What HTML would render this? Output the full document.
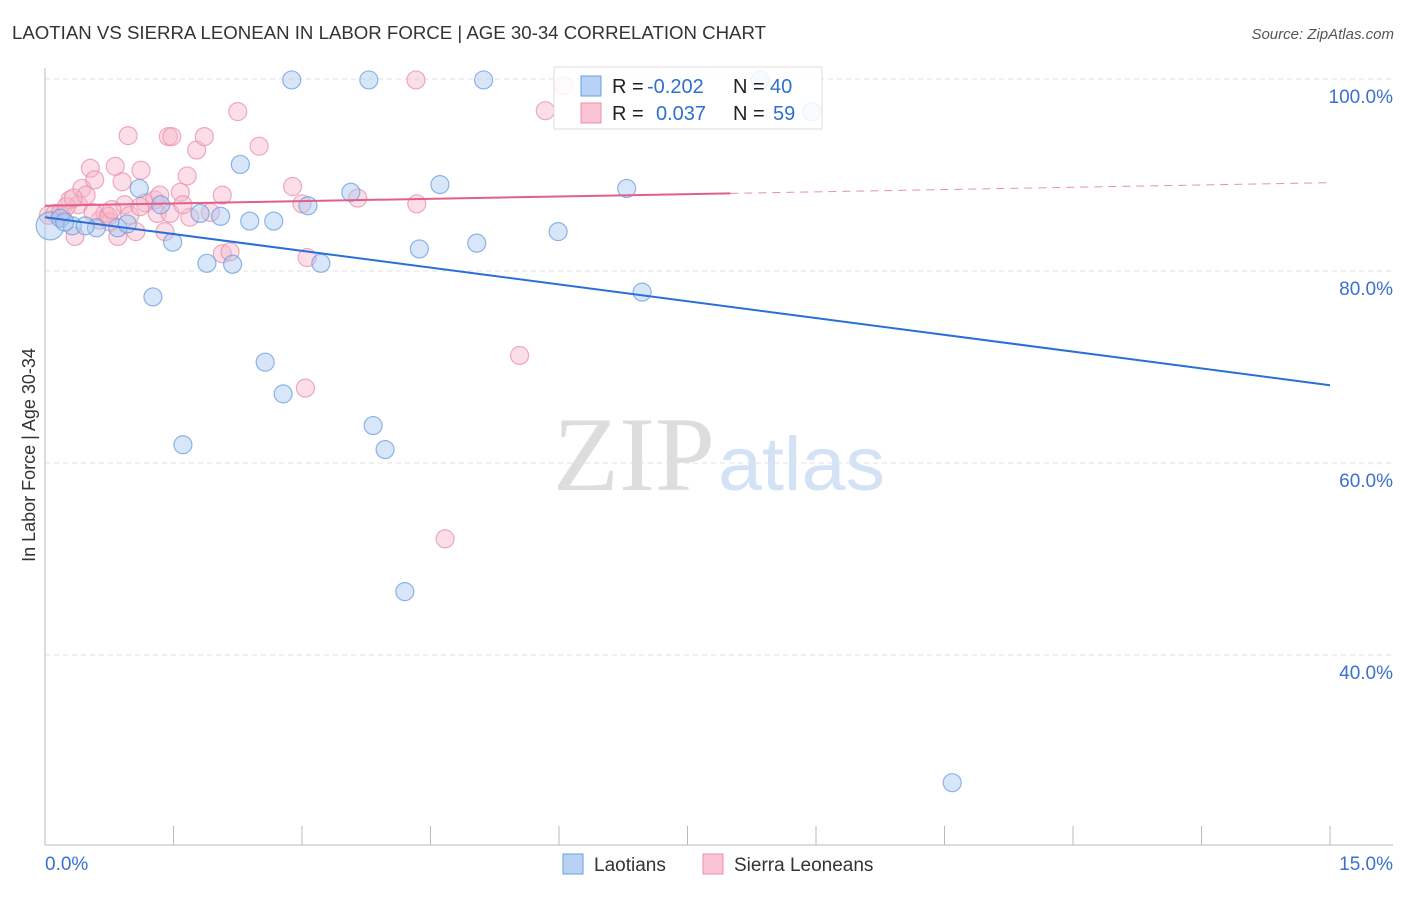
<!DOCTYPE html>
<html><head><meta charset="utf-8"><style>
body{margin:0;background:#fff;font-family:"Liberation Sans",sans-serif}
svg text{font-family:"Liberation Sans",sans-serif}
</style></head><body>
<svg width="1406" height="892" xmlns="http://www.w3.org/2000/svg">
<text x="12" y="39" font-size="18" fill="#333" textLength="754" lengthAdjust="spacingAndGlyphs">LAOTIAN VS SIERRA LEONEAN IN LABOR FORCE | AGE 30-34 CORRELATION CHART</text>
<text x="1394" y="39" font-size="15" fill="#555" text-anchor="end" font-style="italic">Source: ZipAtlas.com</text>
<g>
<text x="553" y="490" font-size="106" fill="#ddd" textLength="162" lengthAdjust="spacingAndGlyphs" style="font-family:'Liberation Serif',serif">ZIP</text>
<text x="718" y="490" font-size="76" fill="#d3e2f5" textLength="167" lengthAdjust="spacingAndGlyphs">atlas</text>
</g>
<g id="grid"></g>
<g id="axes"></g>
<g id="pts"></g>
<g id="trend"></g>
<text x="35" y="455" font-size="18" fill="#333" text-anchor="middle" transform="rotate(-90 35 455)">In Labor Force | Age 30-34</text>
<g>
<rect x="554" y="67" width="268" height="62" fill="#fff" stroke="#ddd" fill-opacity="0.85"/>
<rect x="581" y="76" width="20" height="20" fill="#b8d2f5" stroke="#6a9ede"/>
<rect x="581" y="103" width="20" height="20" fill="#fac4d4" stroke="#e890aa"/>
<text x="612" y="93" font-size="20" fill="#222">R =</text>
<text x="647" y="93" font-size="20" fill="#2f6fd0">-0.202</text>
<text x="733" y="93" font-size="20" fill="#222">N =</text>
<text x="770" y="93" font-size="20" fill="#2f6fd0">40</text>
<text x="612" y="120" font-size="20" fill="#222">R =</text>
<text x="656" y="120" font-size="20" fill="#2f6fd0">0.037</text>
<text x="733" y="120" font-size="20" fill="#222">N =</text>
<text x="773" y="120" font-size="20" fill="#2f6fd0">59</text>
</g>
<g>
<rect x="563" y="854" width="20" height="20" fill="#b8d2f5" stroke="#6a9ede"/>
<text x="594" y="871" font-size="19" fill="#333">Laotians</text>
<rect x="703" y="854" width="20" height="20" fill="#fac4d4" stroke="#e890aa"/>
<text x="734" y="871" font-size="19" fill="#333">Sierra Leoneans</text>
</g>
</svg>
<script>
const blueX=[0.06,0.18,0.32,0.60,0.47,0.85,0.96,1.10,1.26,1.35,1.49,1.61,1.81,1.89,2.05,2.19,2.28,2.39,2.57,2.67,2.78,2.88,3.07,3.22,3.57,3.78,3.83,3.97,4.20,4.37,4.61,5.04,5.12,5.99,6.79,6.97,8.35,8.95,10.59,0.23];
const blueY=[84.7,85.5,84.7,84.5,84.7,84.5,84.9,88.6,77.3,86.9,83.0,61.9,86.0,80.8,85.7,80.7,91.1,85.2,70.5,85.2,67.2,99.9,86.8,80.8,88.2,99.9,63.9,61.4,46.6,82.3,89.0,82.9,99.9,84.1,88.6,77.8,99.9,96.6,26.7,85.1];
const pinkX=[0.04,0.12,0.20,0.29,0.35,0.39,0.43,0.48,0.53,0.58,0.64,0.70,0.76,0.82,0.85,0.90,0.93,0.99,1.06,1.12,1.17,1.28,1.31,1.34,1.40,1.44,1.48,1.46,1.58,1.66,1.69,1.77,1.86,1.93,2.07,2.07,2.16,2.25,2.50,2.89,3.00,3.06,3.04,3.65,4.33,4.34,4.67,5.54,5.84,6.05,0.18,0.25,0.56,0.97,0.74,1.11,1.61,0.33,0.78];
const pinkY=[85.8,86.0,85.7,87.4,83.6,86.9,88.6,87.9,90.7,89.5,85.3,86.0,85.1,90.9,83.6,89.3,86.9,85.8,84.1,90.5,87.1,87.4,86.0,87.9,84.1,94.0,94.0,86.0,88.2,89.9,85.6,92.6,94.0,86.1,87.9,81.8,82.0,96.6,93.0,88.8,87.0,81.4,67.8,87.6,99.9,87.0,52.1,71.2,96.7,99.3,86.0,86.7,86.1,94.1,85.7,86.7,86.9,87.6,86.4];
const blueTrend=[85.6,68.1];
const pinkTrend=[86.8,89.2];
const yTicks=[100,80,60,40];
const yTickLabels=["100.0%","80.0%","60.0%","40.0%"];
const xTicks=[0,1.5,3,4.5,6,7.5,9,10.5,12,13.5,15];

const X=v=>45+v/15*1285;
const Y=v=>79+(100-v)/20*192;
const NS="http://www.w3.org/2000/svg";
function mk(tag,attrs,parent){const e=document.createElementNS(NS,tag);for(const k in attrs)e.setAttribute(k,attrs[k]);parent.appendChild(e);return e;}
const grid=document.getElementById('grid'),axes=document.getElementById('axes'),pts=document.getElementById('pts'),trend=document.getElementById('trend');
yTicks.forEach((t,i)=>{
 const l=mk('line',{x1:45,x2:1393,y1:Y(t),y2:Y(t),stroke:'#e2e2e2','stroke-dasharray':'5,4'},grid);
 
 
 const tx=mk('text',{x:1393,y:Y(t)+24,'font-size':19,fill:'#3a70d0','text-anchor':'end'},axes);
 tx.textContent=yTickLabels[i];
 
 
});
mk('line',{x1:45,x2:45,y1:68,y2:845,stroke:'#bbb'},axes);
mk('line',{x1:45,x2:1393,y1:845,y2:845,stroke:'#bbb'},axes);
xTicks.forEach(t=>{
 const l=mk('line',{x1:X(t),x2:X(t),y1:826,y2:845,stroke:'#bbb'},axes);
 
 
});
const x0=mk('text',{x:45,y:870,'font-size':19,fill:'#3a70d0'},axes);x0.textContent="0.0%";


const x1=mk('text',{x:1393,y:870,'font-size':19,fill:'#3a70d0','text-anchor':'end'},axes);x1.textContent="15.0%";



function dots(xs,ys,fill,stroke,name){
 xs.forEach((x,i)=>{
  const r=(i===0)?(name==='laotian-point'?14:9):9;
  const c=mk('circle',{cx:X(x),cy:Y(ys[i]),r:r,fill:fill,'fill-opacity':0.45,stroke:stroke,'stroke-opacity':0.75,'stroke-width':1.2},pts);
  
  
 });
}
dots(pinkX,pinkY,'#f7b6ca','#e890aa','sierra-leonean-point');
dots(blueX,blueY,'#a9c8f2','#6a9ede','laotian-point');

const bt=mk('line',{x1:X(0),y1:Y(blueTrend[0]),x2:X(15),y2:Y(blueTrend[1]),stroke:'#2a6fd6','stroke-width':2},trend);


const pAt=x=>pinkTrend[0]+(pinkTrend[1]-pinkTrend[0])*x/15;
const pt=mk('line',{x1:X(0),y1:Y(pAt(0)),x2:X(8),y2:Y(pAt(8)),stroke:'#e0608a','stroke-width':2},trend);


const pd=mk('line',{x1:X(8),y1:Y(pAt(8)),x2:X(15),y2:Y(pAt(15)),stroke:'#e0608a','stroke-width':1,'stroke-dasharray':'8,6','stroke-opacity':0.7},trend);


</script>
</body></html>
